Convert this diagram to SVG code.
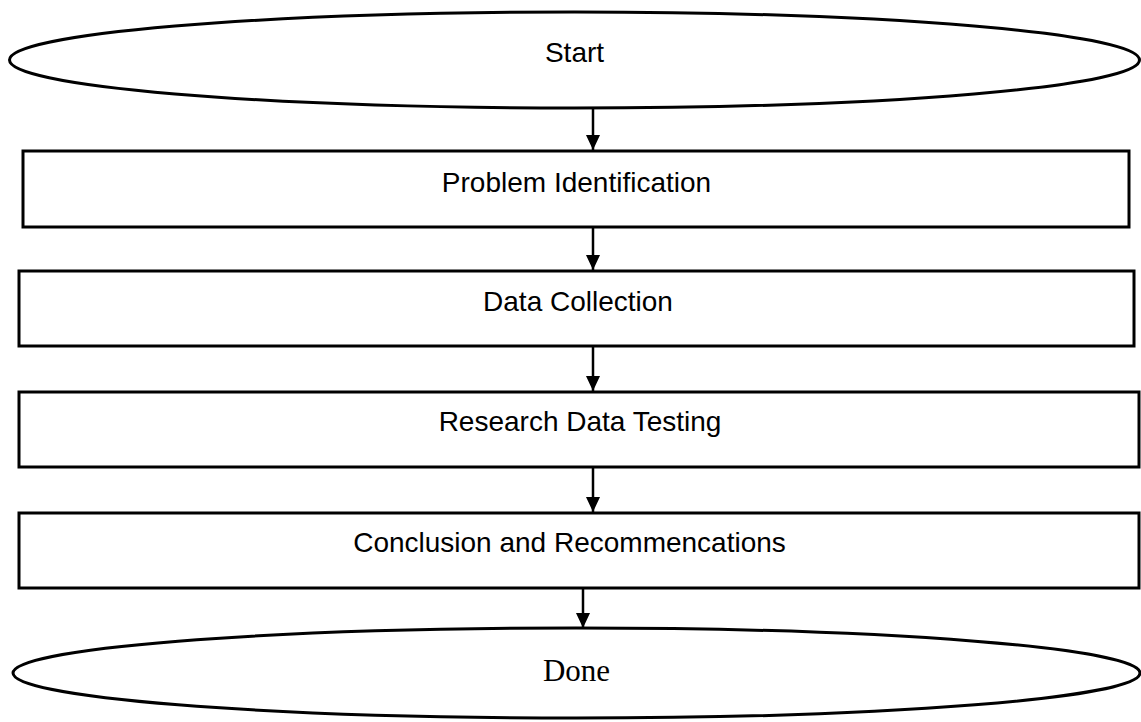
<svg xmlns="http://www.w3.org/2000/svg" width="1141" height="722" viewBox="0 0 1141 722">
  <defs>
    <marker id="arrow" viewBox="0 -7 15 14" refX="15" refY="0" markerWidth="15" markerHeight="14" markerUnits="userSpaceOnUse" orient="auto">
      <path d="M0,-7 L15,0 L0,7 z" fill="#000"/>
    </marker>
    <style>
      .shape { fill: #fff; stroke: #000; stroke-width: 3; }
      .lbl { font-family: "Liberation Sans", Arial, sans-serif; font-size: 28px; fill: #000; text-anchor: middle; }
      .lbl-serif { font-family: "Liberation Serif", "Times New Roman", serif; font-size: 31px; fill: #000; text-anchor: middle; }
      .conn { stroke: #000; stroke-width: 2.5; fill: none; marker-end: url(#arrow); }
    </style>
  </defs>
  <rect width="1141" height="722" fill="#fff"/>

  <g id="connectors">
    <line class="conn" x1="593" y1="109" x2="593" y2="150"/>
    <line class="conn" x1="593" y1="227" x2="593" y2="270"/>
    <line class="conn" x1="593" y1="346" x2="593" y2="391"/>
    <line class="conn" x1="593" y1="467" x2="593" y2="512"/>
    <line class="conn" x1="583" y1="588" x2="583" y2="628"/>
  </g>

  <g id="start">
    <ellipse class="shape" cx="574.5" cy="60" rx="565" ry="48"/>
    <text class="lbl" x="574.5" y="62">Start</text>
  </g>

  <g id="problem-identification">
    <rect class="shape" x="23" y="151" width="1106" height="76"/>
    <text class="lbl" x="576.5" y="192">Problem Identification</text>
  </g>

  <g id="data-collection">
    <rect class="shape" x="19" y="271" width="1115" height="75"/>
    <text class="lbl" x="578" y="311">Data Collection</text>
  </g>

  <g id="research-data-testing">
    <rect class="shape" x="19" y="392" width="1120" height="75"/>
    <text class="lbl" x="580" y="431">Research Data Testing</text>
  </g>

  <g id="conclusion">
    <rect class="shape" x="19" y="513" width="1120" height="75"/>
    <text class="lbl" x="569.5" y="552">Conclusion and Recommencations</text>
  </g>

  <g id="done">
    <ellipse class="shape" cx="576.5" cy="673" rx="563.5" ry="45"/>
    <text class="lbl-serif" x="576.5" y="681">Done</text>
  </g>
</svg>
